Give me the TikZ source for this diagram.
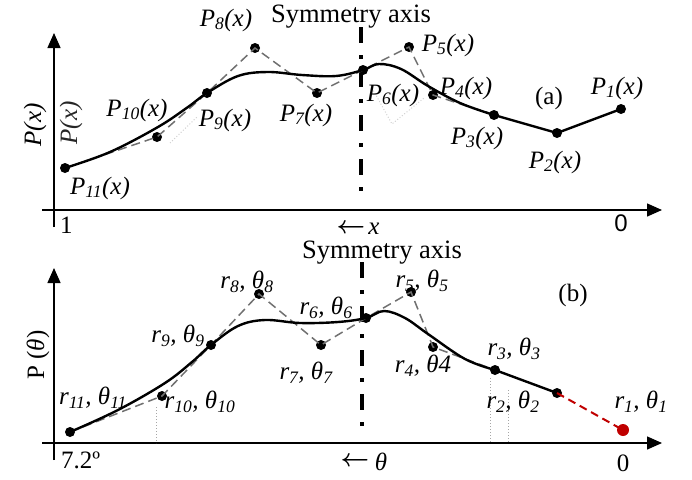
\documentclass[tikz,border=0pt]{standalone}
\usepackage{fontspec}
\setmainfont{Liberation Serif}
\newfontfamily\arialf{Liberation Sans}
\usetikzlibrary{arrows.meta}
\definecolor{myred}{HTML}{C00000}
\definecolor{ctrlgray}{HTML}{707070}
\begin{document}
\begin{tikzpicture}[x=1pt,y=-1pt,
  dot/.style={circle,fill=black,inner sep=0pt,minimum size=10pt},
  reddot/.style={circle,fill=myred,inner sep=0pt,minimum size=12pt},
  lbl/.style={inner sep=0pt,font=\fontsize{25}{30}\selectfont\itshape},
  txt/.style={inner sep=0pt,font=\fontsize{25}{30}\selectfont},
  symtxt/.style={inner sep=0pt,font=\fontsize{26.5}{30}\selectfont},
  axisarrow/.style={line width=1.4pt,-{Triangle[length=15pt,width=13pt]}},
  curve/.style={line width=2.4pt,line join=round,line cap=round},
  ctrl/.style={ctrlgray,line width=1.5pt,dash pattern=on 9pt off 5pt},
  ghost/.style={black!18,line width=1pt,dotted},
  symaxis/.style={line width=4pt,dash pattern=on 16pt off 12pt on 4pt off 12pt},
  reddash/.style={myred,line width=2pt,dash pattern=on 8pt off 5pt},
  dirarrow/.style={inner sep=0pt,font=\fontsize{26}{26}\selectfont\boldmath}
]
\useasboundingbox (0,0) rectangle (692,479);

% ================= panel (a) =================
\coordinate (ya0) at (54,227);
\coordinate (ya1) at (54,33);
\coordinate (xa0) at (42,210);
\coordinate (xa1) at (662,210);
\draw[axisarrow] (ya0) -- (ya1);
\draw[axisarrow] (xa0) -- (xa1);

\coordinate (sa0) at (361,27);
\coordinate (sa1) at (361,200);
\draw[symaxis] (sa0) -- (sa1);
\node[symtxt] (syma) at (351,17) {Symmetry axis};

\node[dot] (p11) at (65,168) {};
\node[dot] (p10) at (157,137) {};
\node[dot] (p9) at (207,93) {};
\node[dot] (p8) at (255,48) {};
\node[dot] (p7) at (317,93) {};
\node[dot] (p6) at (363,70) {};
\node[dot] (p5) at (409,47) {};
\node[dot] (p4) at (433,95) {};
\node[dot] (p3) at (494,115) {};
\node[dot] (p2) at (557,133) {};
\node[dot] (p1) at (621,109) {};

% ghost dotted traces
\coordinate (ga1) at (170,143);
\coordinate (ga2) at (197,117);
\draw[ghost] (ga1) -- (ga2);
\coordinate (ga3) at (372,88);
\coordinate (ga4) at (392,124);
\coordinate (ga5) at (424,98);
\draw[ghost] (ga3) -- (ga4) -- (ga5);

\draw[ctrl] (p11.center) -- (p10.center) -- (p9.center) -- (p8.center) -- (p7.center)
  -- (p6.center) -- (p5.center) -- (p4.center) -- (p3.center);

\coordinate (ca1) at (110,152);
\coordinate (ca2) at (158,127);
\coordinate (ca3) at (188,107);
\coordinate (ca4) at (238,76);
\coordinate (ca5) at (268,72);
\coordinate (ca6) at (302,75);
\coordinate (ca7) at (336,76);
\coordinate (ca8) at (379,64);
\coordinate (ca9) at (401,69);
\coordinate (ca10) at (428,86);
\coordinate (ca11) at (460,103);
\draw[curve] plot[smooth,tension=0.6] coordinates {(p11.center) (ca1) (ca2) (ca3) (p9.center) (ca4) (ca5) (ca6) (ca7) (p6.center) (ca8) (ca9) (ca10) (ca11) (p3.center)}
  -- (p2.center) -- (p1.center);

\node[lbl] (lp11) at (100,188) {P\textsubscript{11}(x)};
\node[lbl] (lp10) at (137,110) {P\textsubscript{10}(x)};
\node[lbl] (lp9) at (225,120) {P\textsubscript{9}(x)};
\node[lbl] (lp8) at (226,20) {P\textsubscript{8}(x)};
\node[lbl] (lp7) at (306,115) {P\textsubscript{7}(x)};
\node[lbl] (lp6) at (393,95) {P\textsubscript{6}(x)};
\node[lbl] (lp5) at (448,45) {P\textsubscript{5}(x)};
\node[lbl] (lp4) at (466,88) {P\textsubscript{4}(x)};
\node[lbl] (lp3) at (477,138) {P\textsubscript{3}(x)};
\node[lbl] (lp2) at (555,162) {P\textsubscript{2}(x)};
\node[lbl] (lp1) at (617,88) {P\textsubscript{1}(x)};
\node[txt] (la) at (549,98) {(a)};

\node[lbl,rotate=90] (ylaba) at (35,125) {P(x)};
\node[lbl,rotate=90,black!85] (ylabb) at (71,123) {P(x)};

\node[txt,anchor=west] (one) at (60,225) {1};
\node[inner sep=0pt,font=\fontsize{24}{28}\selectfont\arialf] (zeroa) at (621,223) {0};
\node[dirarrow] (xarr) at (351,229) {$\leftarrow$};
\node[lbl] (xlab) at (374,229) {x};

% ================= panel (b) =================
\coordinate (yb0) at (54,460);
\coordinate (yb1) at (54,268);
\coordinate (xb0) at (42,443);
\coordinate (xb1) at (662,443);
\draw[axisarrow] (yb0) -- (yb1);
\draw[axisarrow] (xb0) -- (xb1);

\coordinate (sb0) at (362,262);
\coordinate (sb1) at (362,433);
\draw[symaxis] (sb0) -- (sb1);
\node[symtxt] (symb) at (382,253) {Symmetry axis};

\node[dot] (q11) at (70,432) {};
\node[dot] (q10) at (162,396) {};
\node[dot] (q9) at (211,345) {};
\node[dot] (q8) at (259,294) {};
\node[dot] (q7) at (321,345) {};
\node[dot] (q6) at (366,318) {};
\node[dot] (q5) at (411,292) {};
\node[dot] (q4) at (433,347) {};
\node[dot] (q3) at (495,370) {};
\node[dot] (q2) at (557,393) {};
\node[reddot] (q1) at (623,430) {};

% light dotted drop lines
\coordinate (db1) at (156,407);
\coordinate (db2) at (156,443);
\coordinate (db3) at (490,378);
\coordinate (db4) at (490,443);
\coordinate (db5) at (508,390);
\coordinate (db6) at (508,443);
\draw[ghost,black!35] (db1) -- (db2);
\draw[ghost,black!35] (db3) -- (db4);
\draw[ghost,black!35] (db5) -- (db6);

\draw[ctrl] (q11.center) -- (q10.center) -- (q9.center) -- (q8.center) -- (q7.center)
  -- (q6.center) -- (q5.center) -- (q4.center) -- (q3.center);

\coordinate (cb1) at (118,410);
\coordinate (cb2) at (165,383);
\coordinate (cb3) at (192,362);
\coordinate (cb4) at (238,326);
\coordinate (cb5) at (265,320);
\coordinate (cb6) at (300,323);
\coordinate (cb7) at (338,322);
\coordinate (cb8) at (384,311);
\coordinate (cb9) at (405,318);
\coordinate (cb10) at (428,334);
\coordinate (cb11) at (465,359);
\draw[curve] plot[smooth,tension=0.6] coordinates {(q11.center) (cb1) (cb2) (cb3) (q9.center) (cb4) (cb5) (cb6) (cb7) (q6.center) (cb8) (cb9) (cb10) (cb11) (q3.center)}
  -- (q2.center);
\draw[reddash] (q2.center) -- (q1.center);

\node[lbl] (lq11) at (93,398) {r\textsubscript{11}, θ\textsubscript{11}};
\node[lbl] (lq10) at (200,402) {r\textsubscript{10}, θ\textsubscript{10}};
\node[lbl] (lq9) at (178,336) {r\textsubscript{9}, θ\textsubscript{9}};
\node[lbl] (lq8) at (247,282) {r\textsubscript{8}, θ\textsubscript{8}};
\node[lbl] (lq7) at (306,373) {r\textsubscript{7}, θ\textsubscript{7}};
\node[lbl] (lq6) at (326,308) {r\textsubscript{6}, θ\textsubscript{6}};
\node[lbl] (lq5) at (422,281) {r\textsubscript{5}, θ\textsubscript{5}};
\node[lbl] (lq4) at (423,366) {r\textsubscript{4}, θ4};
\node[lbl] (lq3) at (514,349) {r\textsubscript{3}, θ\textsubscript{3}};
\node[lbl] (lq2) at (513,402) {r\textsubscript{2}, θ\textsubscript{2}};
\node[lbl] (lq1) at (641,402) {r\textsubscript{1}, θ\textsubscript{1}};
\node[txt] (lb) at (573,295) {(b)};

\node[txt,rotate=90] (ylabq) at (38,355) {P (\textit{θ})};
\node[txt,anchor=west] (seven) at (61,460) {7.2º};
\node[txt] (zerob) at (623,463) {0};
\node[dirarrow] (tarr) at (355,462) {$\leftarrow$};
\node[lbl] (tlab) at (381,462) {θ};
\end{tikzpicture}
\end{document}
